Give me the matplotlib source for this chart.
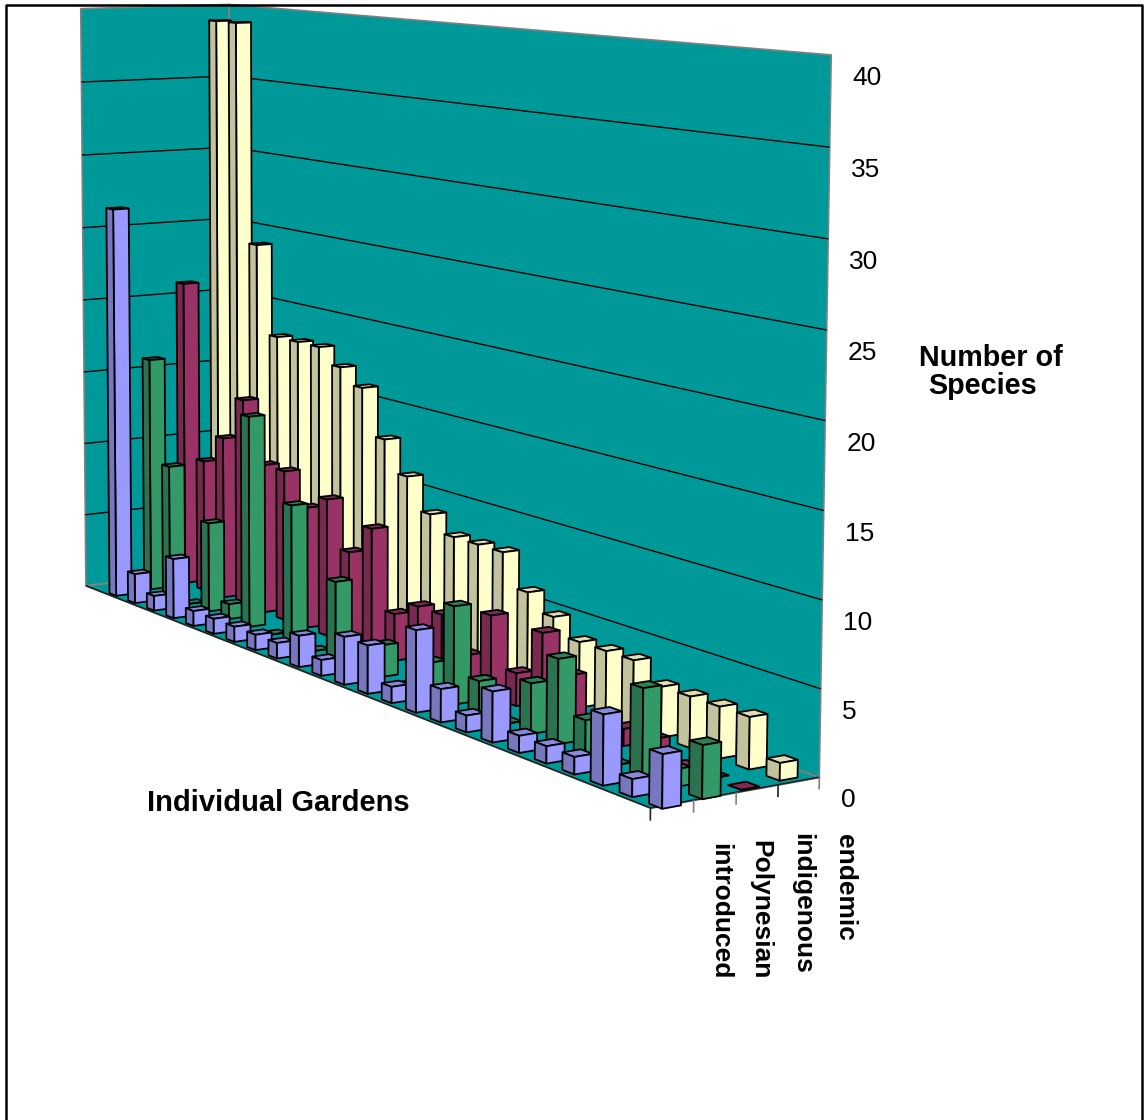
import numpy as np
import matplotlib
matplotlib.use("Agg")
import matplotlib.pyplot as plt
from mpl_toolkits.mplot3d import Axes3D
from mpl_toolkits.mplot3d.art3d import Poly3DCollection, Line3DCollection

W, H = 1147, 1120

plt.rcParams["font.family"] = ["Liberation Sans", "DejaVu Sans"]

# species counts per garden, front row to back row
series_names = ["introduced", "Polynesian", "indigenous", "endemic"]
introduced = [26.6, 2, 1, 4, 1, 1, 1, 1, 1, 2, 1, 3, 3, 1, 5, 2, 1, 3, 1, 1, 1, 4, 1, 3]
polynesian = [16, 9, 0, 6, 1, 14, 0, 9, 0, 5, 0, 2, 0, 2, 6, 2, 0, 3, 5, 2, 0, 5, 1, 3]
indigenous = [21, 9, 11, 14, 10, 10, 8, 9, 6, 8, 3, 4, 4, 2, 5, 2, 5, 3, 1, 1, 1, 0, 0, 0]
endemic = [39, 39, 24, 18, 18, 18, 17, 16, 13, 11, 9, 8, 8, 8, 6, 5, 4, 4, 4, 3, 3, 3, 3, 1]
z_ticks = [0, 5, 10, 15, 20, 25, 30, 35, 40]

# face colours for each series: top, dark side, light side
colours = [("#8888DD", "#7777C0", "#9999FF"),
           ("#2D7F55", "#2B7350", "#339966"),
           ("#7F2A55", "#78294F", "#993366"),
           ("#DEDEB0", "#C2C29C", "#FFFFCC")]
WALL = "#009999"
GREY = "#808080"

N_GARDENS = len(endemic)
N_SERIES = len(series_names)
Z_TOP = 40


# Camera matrix fitted from where the box corners land on the page
def fit_camera():
    world = [(0, 0, 0), (N_GARDENS, 0, 0), (N_GARDENS, N_SERIES, 0), (0, N_SERIES, 0),
             (0, 0, Z_TOP), (0, N_SERIES, Z_TOP), (N_GARDENS, N_SERIES, Z_TOP)]
    page = [(87, 587), (650, 807), (820, 778), (230, 566),
            (80, 8), (230, 5), (831, 55)]
    A, b = [], []
    for (x, y, z), (u, v) in zip(world, page):
        A.append([x, y, z, 1, 0, 0, 0, 0, -u * x, -u * y, -u * z])
        A.append([0, 0, 0, 0, x, y, z, 1, -v * x, -v * y, -v * z])
        b += [u, v]
    p = np.linalg.lstsq(np.array(A, float), np.array(b, float), rcond=None)[0]
    bottom = np.array([p[8], p[9], p[10], 1.0])
    # third row only has to keep the matrix invertible
    depth = np.array([-0.01, 0.01, 0.0, 0.0]) + bottom * 0.5
    return np.array([p[:4], p[4:8], depth, bottom])


fig = plt.figure(figsize=(W / 100, H / 100), dpi=100)
ax = fig.add_axes([0, 0, 1, 1], projection="3d")
ax.set_axis_off()
ax.computed_zorder = False
M_cam = fit_camera()
ax.get_proj = lambda: M_cam
# 2D limits in page pixels; the axes box is squared and centred by mplot3d
ax.viewLim.intervalx = ((W - H) / 2, (W + H) / 2)
ax.viewLim.intervaly = (H, 0)

# Walls and floor
box = [
    [(0, 0, 0), (0, N_SERIES, 0), (0, N_SERIES, Z_TOP), (0, 0, Z_TOP)],
    [(0, N_SERIES, 0), (N_GARDENS, N_SERIES, 0), (N_GARDENS, N_SERIES, Z_TOP), (0, N_SERIES, Z_TOP)],
]
ax.add_collection3d(Poly3DCollection(box, facecolors=WALL, edgecolors=GREY, linewidths=1.2, zorder=1))
floor = [[(0, 0, 0), (N_GARDENS, 0, 0), (N_GARDENS, N_SERIES, 0), (0, N_SERIES, 0)]]
ax.add_collection3d(Poly3DCollection(floor, facecolors=WALL, edgecolors=GREY, linewidths=1.0, zorder=2))

# Gridlines across both walls
grid = []
for z in z_ticks[1:-1]:
    grid.append([(0, 0, z), (0, N_SERIES, z)])
    grid.append([(0, N_SERIES, z), (N_GARDENS, N_SERIES, z)])
ax.add_collection3d(Line3DCollection(grid, colors="black", linewidths=1.0, zorder=3))

# Front floor edge, plus the ticks under the right floor edge
edges = [[(0, 0, 0), (N_GARDENS, 0, 0)], [(N_GARDENS, 0, 0), (N_GARDENS, N_SERIES, 0)]]
ax.add_collection3d(Line3DCollection(edges, colors="#222222", linewidths=1.2, zorder=4))
ticks = [[(N_GARDENS, k, 0), (N_GARDENS, k, -0.7)] for k in range(N_SERIES + 1)]
tick_colours = ["#222222", "#808080", "#808080", "#222222", "#808080"]
ax.add_collection3d(Line3DCollection(ticks, colors=tick_colours, linewidths=1.2, zorder=4))

rows = [introduced, polynesian, indigenous, endemic]
order = 10
# Back row first, and gardens left to right, so nearer bars paint over farther ones
for k in range(N_SERIES - 1, -1, -1):
    top, dark, light = colours[k]
    # bar3d face order: -z, +z, -y, +y, -x, +x
    face = [(0, 0, 0, 0), top, dark, (0, 0, 0, 0), (0, 0, 0, 0), light]
    edge = [(0, 0, 0, 0), "black", "black", (0, 0, 0, 0), (0, 0, 0, 0), "black"]
    for i, val in enumerate(rows[k]):
        x0 = 1.1 - 0.21 * k + i * (0.9845 + 0.0035 * k)
        y0 = 1.037 * k + 0.09 + 0.0025 * i * (1 - k / 3)
        # bars read a little narrower toward the far end of the floor
        bar_w = 0.36 + 0.003 * i
        bar_d = 0.41 + 0.001 * i
        ax.bar3d(x0, y0, 0, bar_w, bar_d, val, color=face, edgecolor=edge, shade=False,
                 linewidth=1.3, zorder=order)
        order += 1


def page_text(x, y, s, **kw):
    fig.text(x / W, 1 - y / H, s, **kw)


z_label_x = [841, 842, 843, 845, 847, 848, 849, 851, 852]
z_label_y = [800, 712, 623, 534, 444, 353, 262, 170, 78]
for val, lx, ly in zip(z_ticks, z_label_x, z_label_y):
    page_text(lx, ly, str(val), fontsize=19, ha="left", va="center")

page_text(991, 358.5, "Number of", fontsize=20.7, fontweight="bold", ha="center", va="center")
page_text(982, 386, "Species", fontsize=20.7, fontweight="bold", ha="center", va="center")
page_text(278, 803, "Individual Gardens", fontsize=21, fontweight="bold", ha="center", va="center")

# Series names read downwards under the ticks
label_x = [720, 760, 802, 845]
label_y = [843, 840, 833, 834]
for name, lx, ly in zip(series_names, label_x, label_y):
    page_text(lx, ly, name, fontsize=19, fontweight="bold", rotation=-90, ha="center", va="top")

# Outer frame: left, top and right only, it runs off the bottom of the page
frame_x = [6 / W, 6 / W, 1142 / W, 1142 / W]
frame_y = [0, 1 - 5 / H, 1 - 5 / H, 0]
fig.add_artist(plt.Line2D(frame_x, frame_y, transform=fig.transFigure, color="black", lw=1.8))

fig.savefig("out.png", dpi=100)
